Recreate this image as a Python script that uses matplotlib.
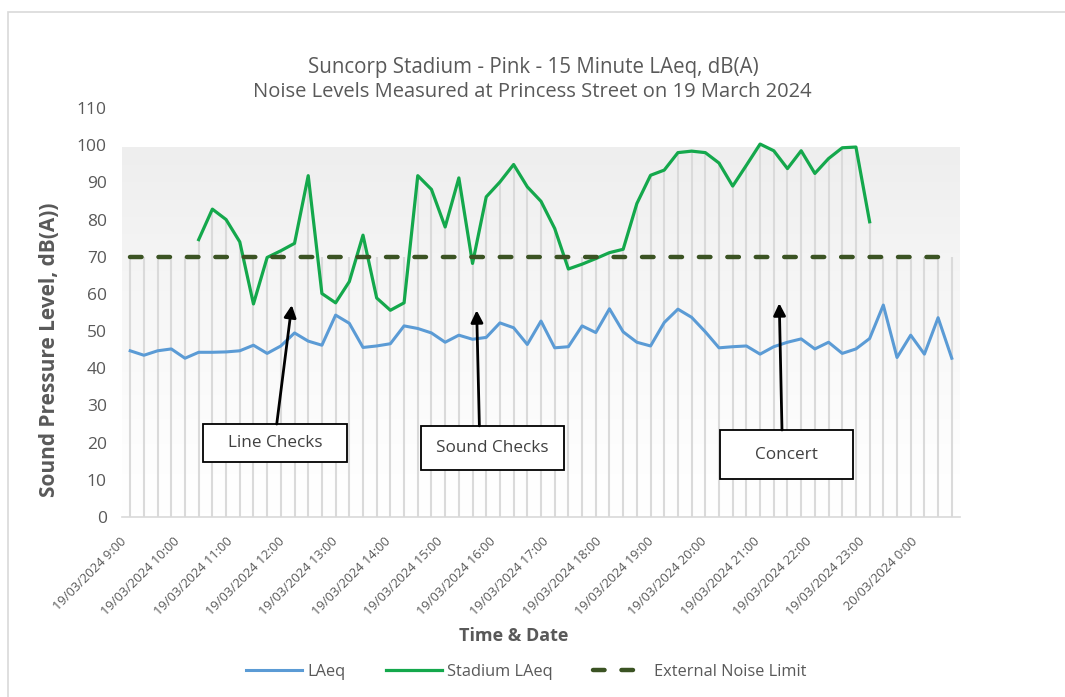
import matplotlib
matplotlib.use("Agg")
import matplotlib.pyplot as plt
import matplotlib.transforms as mtransforms
import numpy as np
from matplotlib.colors import LinearSegmentedColormap
from matplotlib.patches import Rectangle
from matplotlib.lines import Line2D

plt.rcParams["font.family"] = ["Open Sans", "DejaVu Sans"]

# ---------------------------------------------------------------------------
# Data (15 minute LAeq, dB(A))
# ---------------------------------------------------------------------------
laeq = [44.7, 43.5, 44.7, 45.2, 42.7, 44.3, 44.3, 44.4, 44.7, 46.2,
        44.0, 46.0, 49.5, 47.3, 46.2, 54.3, 52.1, 45.6, 46.0, 46.6,
        51.4, 50.7, 49.5, 47.0, 48.9, 47.8, 48.3, 52.2, 50.9, 46.4,
        52.7, 45.5, 45.8, 51.4, 49.6, 56.0, 49.8, 47.0, 46.0, 52.3,
        55.9, 53.7, 49.8, 45.5, 45.8, 46.0, 43.8, 45.8, 47.0, 47.9,
        45.2, 47.0, 44.0, 45.2, 48.0, 57.0, 42.9, 48.9, 43.8, 53.6,
        42.7]

nan = float("nan")
stadium_laeq = [nan, nan, nan, nan, nan,
                74.6, 82.8, 80.0, 74.0, 57.3, 69.8, 71.6, 73.6, 91.8, 60.1,
                57.6, 63.3, 75.8, 58.9, 55.6, 57.6, 91.8, 88.1, 78.0, 91.2,
                68.2, 86.1, 90.1, 94.8, 88.8, 84.9, 77.6, 66.7, 68.0, 69.5,
                71.1, 72.0, 84.3, 91.9, 93.3, 98.0, 98.4, 98.0, 95.2, 89.0,
                94.6, 100.3, 98.5, 93.7, 98.5, 92.4, 96.4, 99.3, 99.5, 79.4,
                nan, nan, nan, nan, nan, nan]

noise_limit = [70] * len(laeq)

hour_labels = ["19/03/2024 9:00", "19/03/2024 10:00", "19/03/2024 11:00",
               "19/03/2024 12:00", "19/03/2024 13:00", "19/03/2024 14:00",
               "19/03/2024 15:00", "19/03/2024 16:00", "19/03/2024 17:00",
               "19/03/2024 18:00", "19/03/2024 19:00", "19/03/2024 20:00",
               "19/03/2024 21:00", "19/03/2024 22:00", "19/03/2024 23:00",
               "20/03/2024 0:00"]

TXT = "#595959"
POINTS_PER_LABEL = 3.85   # label spacing on the category axis

# ---------------------------------------------------------------------------
fig = plt.figure(figsize=(10.65, 6.97), dpi=100)
ax = fig.add_axes([122 / 1065, 1 - 517 / 697, 838 / 1065, 409 / 697])

x = np.arange(len(laeq))
lim = np.array(noise_limit, dtype=float)
std = np.array(stadium_laeq, dtype=float)

# faint gradient behind the plot
grad = np.linspace(0, 1, 256).reshape(-1, 1) ** 1.3
gcm = LinearSegmentedColormap.from_list("g", ["#ffffff", "#eeeeee"])
ax.imshow(grad, cmap=gcm, aspect="auto", extent=(-0.6, 60.6, 99.5, 0),
          zorder=0, interpolation="bicubic")

# drop lines
ax.vlines(x, 0, np.fmax(lim, std), color="#dadada", lw=1.5, zorder=1)

ax.plot(x, laeq, color="#5b9bd5", lw=2.2, zorder=3, label="LAeq")
ax.plot(x, std, color="#14a84c", lw=2.3, zorder=3, label="Stadium LAeq")
ax.plot(x, lim, color="#3b5323", lw=3.2, zorder=4, ls=(0, (2.6, 3.8)),
        dash_capstyle="round", label="External Noise Limit")

ax.set_xlim(-0.6, 60.6)
ax.set_ylim(0, 110)
ax.set_yticks(np.arange(0, 111, 10))
for s in ["top", "right", "left"]:
    ax.spines[s].set_visible(False)
ax.spines["bottom"].set_color("#d9d9d9")
ax.spines["bottom"].set_linewidth(1.2)
ax.tick_params(axis="y", length=0, pad=11, labelsize=12.5, labelcolor=TXT)
ax.set_xticks(np.arange(len(hour_labels)) * POINTS_PER_LABEL)
ax.set_xticklabels(hour_labels, rotation=45, ha="right",
                   rotation_mode="anchor", fontsize=9.3, color=TXT)
ax.tick_params(axis="x", length=0, pad=13)
shift = mtransforms.ScaledTranslation(-10 / 100, 0, fig.dpi_scale_trans)
for lab in ax.get_xticklabels():
    lab.set_transform(lab.get_transform() + shift)

ax.set_ylabel("Sound Pressure Level, dB(A))", fontsize=15, fontweight="bold",
              color=TXT)
ax.yaxis.set_label_coords(-0.074, 0.41)
ax.set_xlabel("Time & Date", fontsize=13, fontweight="bold", color=TXT)
ax.xaxis.set_label_coords(0.468, -0.269)

fig.text(533 / 1065, 1 - 68 / 697, "Suncorp Stadium - Pink - 15 Minute LAeq, dB(A)",
         ha="center", va="center", fontsize=14.8, color=TXT)
fig.text(532 / 1065, 1 - 92 / 697,
         "Noise Levels Measured at Princess Street on 19 March 2024",
         ha="center", va="center", fontsize=14.5, color=TXT)

# annotation boxes with arrows
notes = [
    ("Line Checks", (5.33, 14.8, 10.5, 10.2), (10.7, 25.0), (11.8, 57.0)),
    ("Sound Checks", (21.2, 12.6, 10.5, 11.9), (25.5, 24.5), (25.3, 55.6)),
    ("Concert", (43.1, 10.2, 9.7, 13.2), (47.6, 23.4), (47.4, 57.5)),
]
for text, (bx, by, bw, bh), tail, tip in notes:
    ax.add_patch(Rectangle((bx, by), bw, bh, fc="white", ec="black",
                           lw=1.3, zorder=6))
    ax.text(bx + bw / 2, by + bh / 2, text, ha="center", va="center",
            fontsize=12.3, color="#404040", zorder=7)
    ax.annotate("", xy=tip, xytext=tail, zorder=6,
                arrowprops=dict(arrowstyle="-|>", color="black", lw=2,
                                mutation_scale=18, shrinkA=0, shrinkB=0))

handles = [Line2D([], [], color="#5b9bd5", lw=2.2),
           Line2D([], [], color="#14a84c", lw=2.3),
           Line2D([], [], color="#3b5323", lw=3.2, ls=(0, (2.6, 3.8)),
                  dash_capstyle="round")]
fig.legend(handles, ["LAeq", "Stadium LAeq", "External Noise Limit"],
           loc="center", bbox_to_anchor=(0.4944, 1 - 672 / 697), ncol=3,
           frameon=False, handlelength=3.4, columnspacing=2.5, handletextpad=0.3,
           labelcolor=TXT, prop={"size": 11.8})

# outer chart border
fig.patches.append(Rectangle((8 / 1065, -0.1), 1.2, 1.1 - 12 / 697,
                             transform=fig.transFigure, fill=False,
                             ec="#d9d9d9", lw=1.2))

fig.savefig("out.png", dpi=100)
